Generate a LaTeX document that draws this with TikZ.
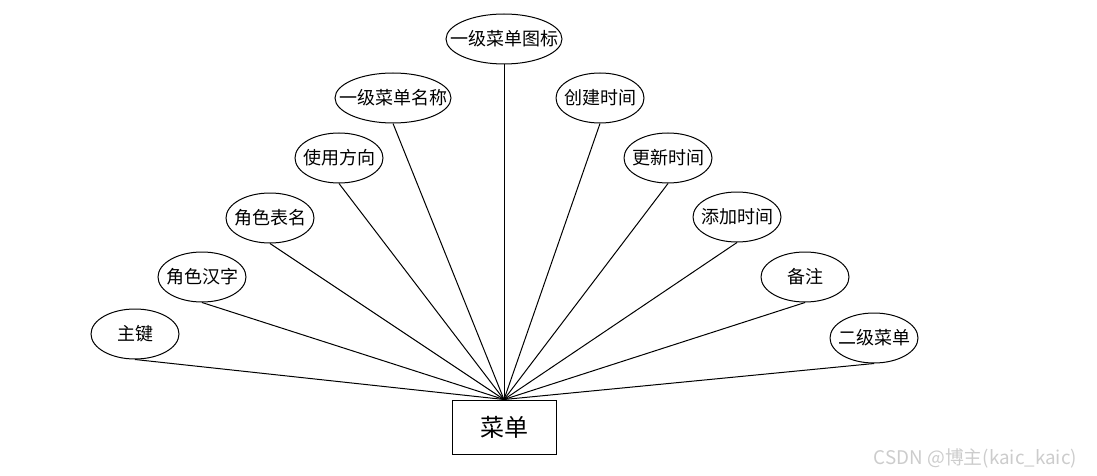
\documentclass[tikz,border=0pt]{standalone}
\usepackage{fontspec}
\setmainfont{Noto Sans CJK SC}
\usetikzlibrary{shapes.geometric}
\newcommand{\zw}[1]{\makebox[0pt]{#1}}

\begin{document}
\begin{tikzpicture}[x=0.5pt, y=-0.5pt,
    attr/.style={draw, ellipse, line width=0.5pt, inner sep=0pt,
      minimum width=44pt, minimum height=25pt, font=\fontsize{9}{10}\selectfont},
    wide/.style={minimum width=58pt},
    ent/.style={draw, rectangle, line width=0.5pt, minimum width=52pt,
      minimum height=27pt, font=\fontsize{12}{14}\selectfont},
    link/.style={line width=0.5pt}]
  \useasboundingbox (0,0) rectangle (1097,476);
  % entity
  \node[ent] (menu) at (504,427) {菜单};
  % attributes, left side
  \node[attr] (pk)    at (135,334) {\zw{主键}};
  \node[attr] (rolecn) at (202,277) {\zw{角色汉字}};
  \node[attr] (roletb) at (270,218) {\zw{角色表名}};
  \node[attr] (usedir) at (339,158) {\zw{使用方向}};
  \node[attr, wide] (name1) at (393,98) {\zw{一级菜单名称}};
  % top
  \node[attr, wide] (icon1) at (504,39) {\zw{一级菜单图标}};
  % attributes, right side
  \node[attr] (ctime) at (600,98) {\zw{创建时间}};
  \node[attr] (utime) at (668,158) {\zw{更新时间}};
  \node[attr] (atime) at (737,217) {\zw{添加时间}};
  \node[attr] (note)  at (805,277) {\zw{备注}};
  \node[attr] (menu2) at (874,338) {\zw{二级菜单}};
  % connectors
  \foreach \a in {pk,rolecn,roletb,usedir,name1,icon1,ctime,utime,atime,note,menu2}
    \draw[link] (\a.south) -- (menu.north);
  % watermark
  \node[text=black!20, font=\fontsize{9.4}{11}\selectfont, anchor=east] (mark) at (1084,458) {CSDN @博主(kaic\_kaic)};
\end{tikzpicture}
\end{document}
